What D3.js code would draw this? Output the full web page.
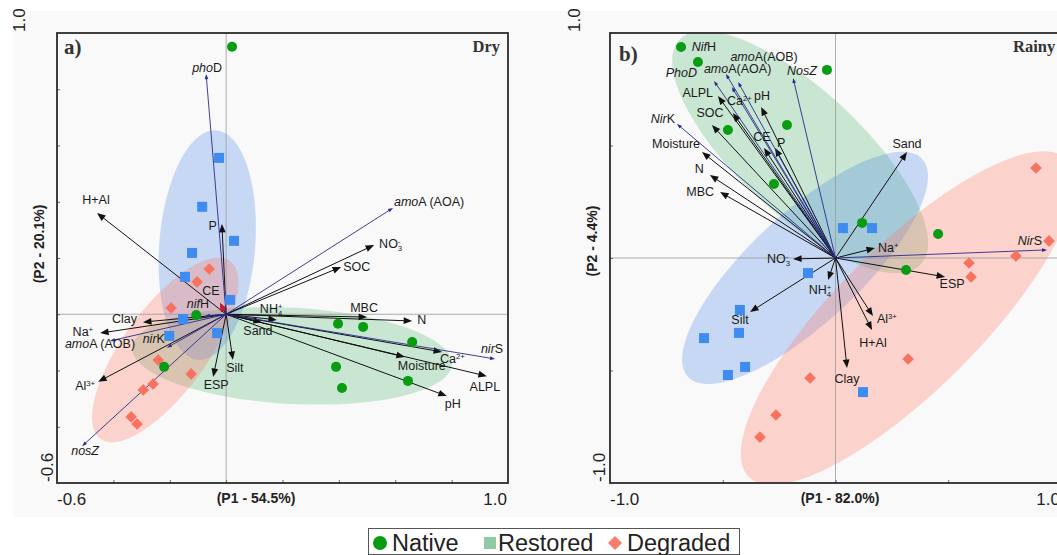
<!DOCTYPE html>
<html><head><meta charset="utf-8">
<script src="https://cdn.jsdelivr.net/npm/d3@7"></script>
<style>body{margin:0;background:#fff}svg{display:block}</style>
</head><body>
<svg id="c" width="1057" height="555"></svg>
<script>
// ---------------- DATA ----------------
const groups = ["Native", "Restored", "Degraded"];

// Panel a) Dry  (P1 54.5 %, P2 20.1 %)
const dryNative = [[0.021,0.951],[-0.106,-0.003],[-0.22,-0.187],[0.397,-0.034],[0.486,-0.045],[0.66,-0.099],[0.39,-0.187],[0.411,-0.262],[0.645,-0.237]];
const dryRestored = [[-0.025,0.556],[-0.085,0.382],[0.028,0.261],[-0.121,0.218],[-0.146,0.133],[0.014,0.051],[-0.153,-0.017],[-0.202,-0.077],[-0.032,-0.067]];
const dryDegraded = [[-0.06,0.161],[-0.103,0.115],[-0.195,0.022],[-0.241,-0.163],[-0.124,-0.212],[-0.259,-0.248],[-0.294,-0.269],[-0.337,-0.365],[-0.316,-0.39]];
// environmental vectors
const dryEnv = [
  {name:"H+Al", x:-0.458, y:0.36}, {name:"P", x:-0.015, y:0.321}, {name:"NO_{3}^{-}", x:0.525, y:0.246},
  {name:"SOC", x:0.408, y:0.168}, {name:"NH_{4}^{+}", x:0.18, y:-0.02}, {name:"Sand", x:0.127, y:-0.028},
  {name:"MBC", x:0.5, y:-0.01}, {name:"N", x:0.66, y:-0.024}, {name:"Ca^{2+}", x:0.766, y:-0.134},
  {name:"Moisture", x:0.634, y:-0.152}, {name:"ALPL", x:0.925, y:-0.22}, {name:"pH", x:0.783, y:-0.291},
  {name:"Silt", x:0.024, y:-0.162}, {name:"ESP", x:-0.046, y:-0.223}, {name:"Al^{3+}", x:-0.454, y:-0.24},
  {name:"Na^{+}", x:-0.447, y:-0.067}, {name:"Clay", x:-0.295, y:-0.028}, {name:"CE", x:-0.022, y:0.04}
];
// functional gene vectors
const dryGenes = [
  {name:"*pho*D", x:-0.071, y:0.854}, {name:"*amo*A (AOA)", x:0.592, y:0.378}, {name:"*nir*S", x:0.954, y:-0.159},
  {name:"*amo*A (AOB)", x:-0.412, y:-0.095}, {name:"*nir*K", x:-0.21, y:-0.119}, {name:"*nosZ*", x:-0.511, y:-0.469},
  {name:"*nif*H", x:-0.075, y:-0.006}
];
// confidence ellipses: centre, semi-axes, angle (deg)
const dryEllipses = [
  {group:"Native",   cx:0.234,  cy:-0.148, a:0.568, b:0.171, angle:-3},
  {group:"Restored", cx:-0.067, cy:0.246,  a:0.409, b:0.17,  angle:85.5},
  {group:"Degraded", cx:-0.216, cy:-0.127, a:0.391, b:0.149, angle:54}
];

// Panel b) Rainy (P1 82.0 %, P2 4.4 %)
const rainyNative = [[-0.685,0.938],[-0.61,0.871],[-0.038,0.836],[-0.477,0.569],[-0.215,0.591],[-0.273,0.329],[0.118,0.156],[0.455,0.107],[0.313,-0.053]];
const rainyRestored = [[0.033,0.133],[0.162,0.133],[-0.122,-0.067],[-0.424,-0.231],[-0.583,-0.356],[-0.428,-0.333],[-0.401,-0.484],[-0.477,-0.52],[0.122,-0.596]];
const rainyDegraded = [[0.889,0.4],[0.947,0.076],[0.8,0.009],[0.592,-0.022],[0.601,-0.084],[0.322,-0.449],[-0.113,-0.533],[-0.264,-0.698],[-0.335,-0.796]];
const rainyEnv = [
  {name:"ALPL", x:-0.521, y:0.72}, {name:"Ca^{2+}", x:-0.455, y:0.644}, {name:"pH", x:-0.33, y:0.671},
  {name:"SOC", x:-0.548, y:0.591}, {name:"CE", x:-0.317, y:0.489}, {name:"P", x:-0.268, y:0.489},
  {name:"Moisture", x:-0.592, y:0.471}, {name:"N", x:-0.557, y:0.369}, {name:"MBC", x:-0.512, y:0.293},
  {name:"Sand", x:0.317, y:0.471}, {name:"Na^{+}", x:0.175, y:0.044}, {name:"NO_{3}^{-}", x:-0.188, y:-0.004},
  {name:"NH_{4}^{+}", x:-0.033, y:-0.098}, {name:"Silt", x:-0.379, y:-0.24}, {name:"ESP", x:0.486, y:-0.084},
  {name:"Al^{3+}", x:0.166, y:-0.258}, {name:"H+Al", x:0.162, y:-0.32}, {name:"Clay", x:0.051, y:-0.489}
];
const rainyGenes = [
  {name:"*Nif*H", x:-0.46, y:0.76}, {name:"*PhoD*", x:-0.539, y:0.787}, {name:"*amo*A(AOA)", x:-0.486, y:0.818},
  {name:"*amo*A(AOB)", x:-0.432, y:0.782}, {name:"*NosZ*", x:-0.188, y:0.8}, {name:"*Nir*K", x:-0.703, y:0.596},
  {name:"*Nir*S", x:0.938, y:0.036}
];
const rainyEllipses = [
  {group:"Native",   cx:-0.157, cy:0.471,  a:0.732, b:0.275, angle:-43},
  {group:"Restored", cx:-0.135, cy:-0.044, a:0.71,  b:0.244, angle:43},
  {group:"Degraded", cx:0.321,  cy:-0.267, a:0.998, b:0.32,  angle:45}
];

// ---------------- LAYOUT / STYLE ----------------
const dryLabelPos = {
  "H+Al":[-1,-9,"middle"], "P":[-5,6,"end"], "NO_{3}^{-}":[5,3,"start"], "SOC":[2,4,"start"],
  "NH_{4}^{+}":[-17,-7,"start"], "Sand":[-4,13,"middle"], "MBC":[-3,-5,"middle"], "N":[5,3,"start"],
  "Ca^{2+}":[-2,11,"start"], "Moisture":[-7,13,"start"], "ALPL":[-2,15,"middle"], "pH":[6,12,"middle"],
  "Silt":[2,12,"middle"], "ESP":[3,12,"middle"], "Al^{3+}":[-3,8,"end"], "Na^{+}":[-7,3,"end"],
  "Clay":[-6,1,"end"], "CE":[-9,-8,"middle"],
  "*pho*D":[1,-2,"middle"], "*amo*A (AOA)":[1,-2,"start"], "*nir*S":[-3,-6,"middle"],
  "*amo*A (AOB)":[-10,7,"middle"], "*nir*K":[-2,-5,"end"], "*nosZ*":[3,9,"middle"], "*nif*H":[-7,-8,"middle"]
};
const rainyLabelPos = {
  "ALPL":[-5,1,"end"], "Ca^{2+}":[-6,-8,"start"], "pH":[-7,-7,"start"], "SOC":[-2,-8,"middle"],
  "CE":[-2,-7,"middle"], "P":[2,-1,"start"], "Moisture":[-2,-4,"end"], "N":[-6,-2,"end"],
  "MBC":[-6,4,"end"], "Sand":[0,-4,"middle"], "Na^{+}":[3,4,"start"], "NO_{3}^{-}":[-3,4,"end"],
  "NH_{4}^{+}":[-8,14,"middle"], "Silt":[-10,12,"middle"], "ESP":[7,11,"middle"], "Al^{3+}":[4,7,"start"],
  "H+Al":[1,17,"middle"], "Clay":[0,15,"middle"],
  "*Nif*H":[-40,-36,"start"], "*PhoD*":[-17,-4,"end"], "*amo*A(AOA)":[-22,-1,"start"],
  "*amo*A(AOB)":[26,-21,"middle"], "*NosZ*":[-6,-3,"start"], "*Nir*K":[-2,-1,"end"], "*Nir*S":[-5,-5,"end"]
};
const pointColor = {Native:"#089c12", Restored:"#3f8cf0", Degraded:"#f7735f"};
const ellipseFill = {Native:"#56bb78", Restored:"#538ce9", Degraded:"#ff7864"};
const legendColor = {Native:"#089c12", Restored:"#8fcaa6", Degraded:"#f87c6c"};
const FONT = "'Liberation Sans', Arial, sans-serif";
const SERIF = "'Liberation Serif', 'Times New Roman', serif";

const svg = d3.select("#c");
svg.append("rect").attr("x",13).attr("y",11).attr("width",1044).attr("height",506).attr("fill","#f9f9f9");

function richText(sel, str, size) {
  const re = /\*([^*]+)\*|_\{([^}]+)\}|\^\{([^}]+)\}|([^*_^]+)/g;
  let m, cur = 0, lastSubLen = 0;
  const small = size * 0.62;
  while ((m = re.exec(str))) {
    const t = sel.append("tspan");
    let shift = 0, txt, dx = 0;
    if (m[1]) { txt = m[1]; t.attr("font-style","italic"); lastSubLen = 0; }
    else if (m[2]) { txt = m[2]; shift = 3; t.attr("font-size", small); lastSubLen = txt.length; }
    else if (m[3]) { txt = m[3]; shift = -4; t.attr("font-size", small);
                     if (lastSubLen) dx = -lastSubLen * small * 0.556; lastSubLen = 0; }
    else { txt = m[4]; lastSubLen = 0; }
    t.attr("dy", shift - cur).text(txt);
    if (dx) t.attr("dx", dx);
    cur = shift;
  }
}

function arrow(g, x0, y0, px, py, color, width, L, W) {
  const dx = px - x0, dy = py - y0, len = Math.hypot(dx, dy);
  const ux = dx/len, uy = dy/len;
  const bx = px - ux*L, by = py - uy*L;
  if (width > 0) g.append("line").attr("x1",x0).attr("y1",y0).attr("x2",bx + ux*1).attr("y2",by + uy*1)
    .attr("stroke",color).attr("stroke-width",width);
  g.append("path").attr("d",`M${px},${py}L${bx - uy*W},${by + ux*W}L${bx + uy*W},${by - ux*W}Z`)
    .attr("fill",color);
}

function panel(cfg) {
  const {x, y, native, restored, degraded, env, genes, ellipses, labelPos, id} = cfg;
  const g = svg.append("g");
  const [x1, x2] = x.range(), [y2, y1] = y.range();
  g.append("clipPath").attr("id", id).append("rect")
    .attr("x", x1).attr("y", y1).attr("width", x2 - x1).attr("height", y2 - y1);
  const inner = g.append("g").attr("clip-path", `url(#${id})`);

  // ellipses
  ellipses.forEach(e => {
    const th = e.angle * Math.PI / 180;
    const pts = d3.range(0, 361, 3).map(d => {
      const t = d * Math.PI / 180;
      const ex = e.cx + e.a*Math.cos(t)*Math.cos(th) - e.b*Math.sin(t)*Math.sin(th);
      const ey = e.cy + e.a*Math.cos(t)*Math.sin(th) + e.b*Math.sin(t)*Math.cos(th);
      return [x(ex), y(ey)];
    });
    inner.append("path").attr("d", d3.line()(pts) + "Z")
      .attr("fill", ellipseFill[e.group]).attr("fill-opacity", 0.3);
  });

  // zero lines
  inner.append("line").attr("x1", x(0)).attr("x2", x(0)).attr("y1", y1).attr("y2", y2)
    .attr("stroke", "#9a9a9a").attr("stroke-width", 0.8);
  inner.append("line").attr("y1", y(0)).attr("y2", y(0)).attr("x1", x1).attr("x2", x2)
    .attr("stroke", "#9a9a9a").attr("stroke-width", 0.8);

  // vectors
  const ox = x(0), oy = y(0);
  env.forEach(d => {
    arrow(inner, ox, oy, x(d.x), y(d.y), "#111", 1, 8.5, 3.4);
    if (id === "clipA" && d.name === "CE") arrow(inner, ox, oy, x(d.x), y(d.y), "#e3122c", 0, 8.5, 3.4);
  });
  genes.forEach(d => arrow(inner, ox, oy, x(d.x), y(d.y), "#2a2a8e", 0.9, 5, 1.8));

  // points
  const sym = {
    Native: (s, px, py) => s.append("circle").attr("cx", px).attr("cy", py).attr("r", 5),
    Restored: (s, px, py) => s.append("rect").attr("x", px - 5).attr("y", py - 5).attr("width", 10).attr("height", 10),
    Degraded: (s, px, py) => s.append("path").attr("d", `M${px},${py-5.8}L${px+5.8},${py}L${px},${py+5.8}L${px-5.8},${py}Z`)
  };
  [["Restored", restored], ["Degraded", degraded], ["Native", native]].forEach(([grp, arr]) => {
    arr.forEach(p => sym[grp](inner, x(p[0]), y(p[1])).attr("fill", pointColor[grp]));
  });

  // labels
  env.concat(genes).forEach(d => {
    const lp = labelPos[d.name] || [0, 0, "middle"];
    const t = inner.append("text").attr("x", x(d.x) + lp[0]).attr("y", y(d.y) + lp[1])
      .attr("text-anchor", lp[2]).attr("font-family", FONT).attr("font-size", 12.5).attr("fill", "#1a1a1a");
    richText(t, d.name, 12.5);
  });

  // ticks
  const inTicks = cfg.ticks;
  g.append("g").attr("transform", `translate(0,${y2})`)
    .call(d3.axisBottom(x).tickValues(inTicks).tickSizeInner(-3).tickSizeOuter(0).tickFormat(""))
    .call(s => { s.select(".domain").remove(); s.selectAll("line").attr("stroke", "#666"); });
  g.append("g").attr("transform", `translate(${x1},0)`)
    .call(d3.axisLeft(y).tickValues(inTicks).tickSizeInner(-3).tickSizeOuter(0).tickFormat(""))
    .call(s => { s.select(".domain").remove(); s.selectAll("line").attr("stroke", "#666"); });

  // frame
  g.append("rect").attr("x", x1).attr("y", y1).attr("width", x2 - x1).attr("height", y2 - y1)
    .attr("fill", "none").attr("stroke", "#2b2b2b").attr("stroke-width", 1.8);

  // axis end labels
  const [dx0, dx1] = x.domain(), [dy0, dy1] = y.domain();
  const fmt = d3.format(".1f");
  g.append("text").attr("x", x1).attr("y", 505).attr("font-family", FONT).attr("font-size", 17)
    .attr("fill", "#222").text(fmt(dx0).replace("−", "-"));
  g.append("text").attr("x", x2 - 1).attr("y", 505).attr("text-anchor", "end").attr("font-family", FONT)
    .attr("font-size", 17).attr("fill", "#222").text(fmt(dx1));
  g.append("text").attr("transform", `translate(${cfg.yTopX},32) rotate(-90)`).attr("font-family", FONT)
    .attr("font-size", 17).attr("fill", "#222").text(fmt(dy1));
  g.append("text").attr("transform", `translate(${cfg.yBotX},482) rotate(-90)`).attr("font-family", FONT)
    .attr("font-size", 17).attr("fill", "#222").text(fmt(dy0).replace("−", "-"));

  // axis titles
  g.append("text").attr("x", cfg.p1X).attr("y", 503).attr("text-anchor", "middle").attr("font-family", FONT)
    .attr("font-weight", "bold").attr("font-size", 14).attr("fill", "#222").text(cfg.p1);
  g.append("text").attr("transform", `translate(${cfg.p2X},${cfg.p2Y}) rotate(-90)`).attr("text-anchor", "middle")
    .attr("font-family", FONT).attr("font-weight", "bold").attr("font-size", 14).attr("fill", "#222").text(cfg.p2);

  // panel letter & season
  g.append("text").attr("x", cfg.letterX).attr("y", cfg.letterY).attr("font-family", SERIF).attr("font-weight", "bold")
    .attr("font-size", 21).attr("fill", "#333").text(cfg.letter);
  g.append("text").attr("x", cfg.seasonX).attr("y", 52).attr("text-anchor", cfg.seasonAnchor).attr("font-family", SERIF)
    .attr("font-weight", "bold").attr("font-size", 16.5).attr("fill", "#333").text(cfg.season);
}

panel({
  id: "clipA",
  x: d3.scaleLinear([-0.6, 1.0], [57, 508]), y: d3.scaleLinear([-0.6, 1.0], [483, 33]),
  native: dryNative, restored: dryRestored, degraded: dryDegraded,
  env: dryEnv, genes: dryGenes, ellipses: dryEllipses, labelPos: dryLabelPos,
  ticks: [-0.4, -0.2, 0, 0.2, 0.4, 0.6, 0.8],
  yTopX: 25, yBotX: 53, p1: "(P1 - 54.5%)", p1X: 256, p2: "(P2 - 20.1%)", p2X: 44, p2Y: 244,
  letter: "a)", letterX: 64, letterY: 54, season: "Dry", seasonX: 500, seasonAnchor: "end"
});
panel({
  id: "clipB",
  x: d3.scaleLinear([-1, 1], [610, 1061]), y: d3.scaleLinear([-1, 1], [483, 33]),
  native: rainyNative, restored: rainyRestored, degraded: rainyDegraded,
  env: rainyEnv, genes: rainyGenes, ellipses: rainyEllipses, labelPos: rainyLabelPos,
  ticks: [-0.5, 0, 0.5],
  yTopX: 580, yBotX: 605, p1: "(P1 - 82.0%)", p1X: 840, p2: "(P2 - 4.4%)", p2X: 597, p2Y: 241,
  letter: "b)", letterX: 619, letterY: 61, season: "Rainy", seasonX: 1013, seasonAnchor: "start"
});

// legend
const lg = svg.append("g");
lg.append("rect").attr("x", 368.5).attr("y", 528.5).attr("width", 371).attr("height", 26)
  .attr("fill", "#fff").attr("stroke", "#555").attr("stroke-width", 1);
const legPos = {Native: 380, Restored: 490, Degraded: 615};
groups.forEach(gname => {
  const cx = legPos[gname], cy = 543;
  if (gname === "Native") lg.append("circle").attr("cx", cx).attr("cy", cy).attr("r", 7).attr("fill", legendColor[gname]);
  else if (gname === "Restored") lg.append("rect").attr("x", cx - 6).attr("y", cy - 6).attr("width", 12).attr("height", 12).attr("fill", legendColor[gname]);
  else lg.append("path").attr("d", `M${cx},${cy-7}L${cx+7},${cy}L${cx},${cy+7}L${cx-7},${cy}Z`).attr("fill", legendColor[gname]);
  lg.append("text").attr("x", cx + (gname === "Restored" ? 8 : 12)).attr("y", 550.5).attr("font-family", FONT)
    .attr("font-size", 23.5).attr("fill", "#222").text(gname);
});
</script>
</body></html>
